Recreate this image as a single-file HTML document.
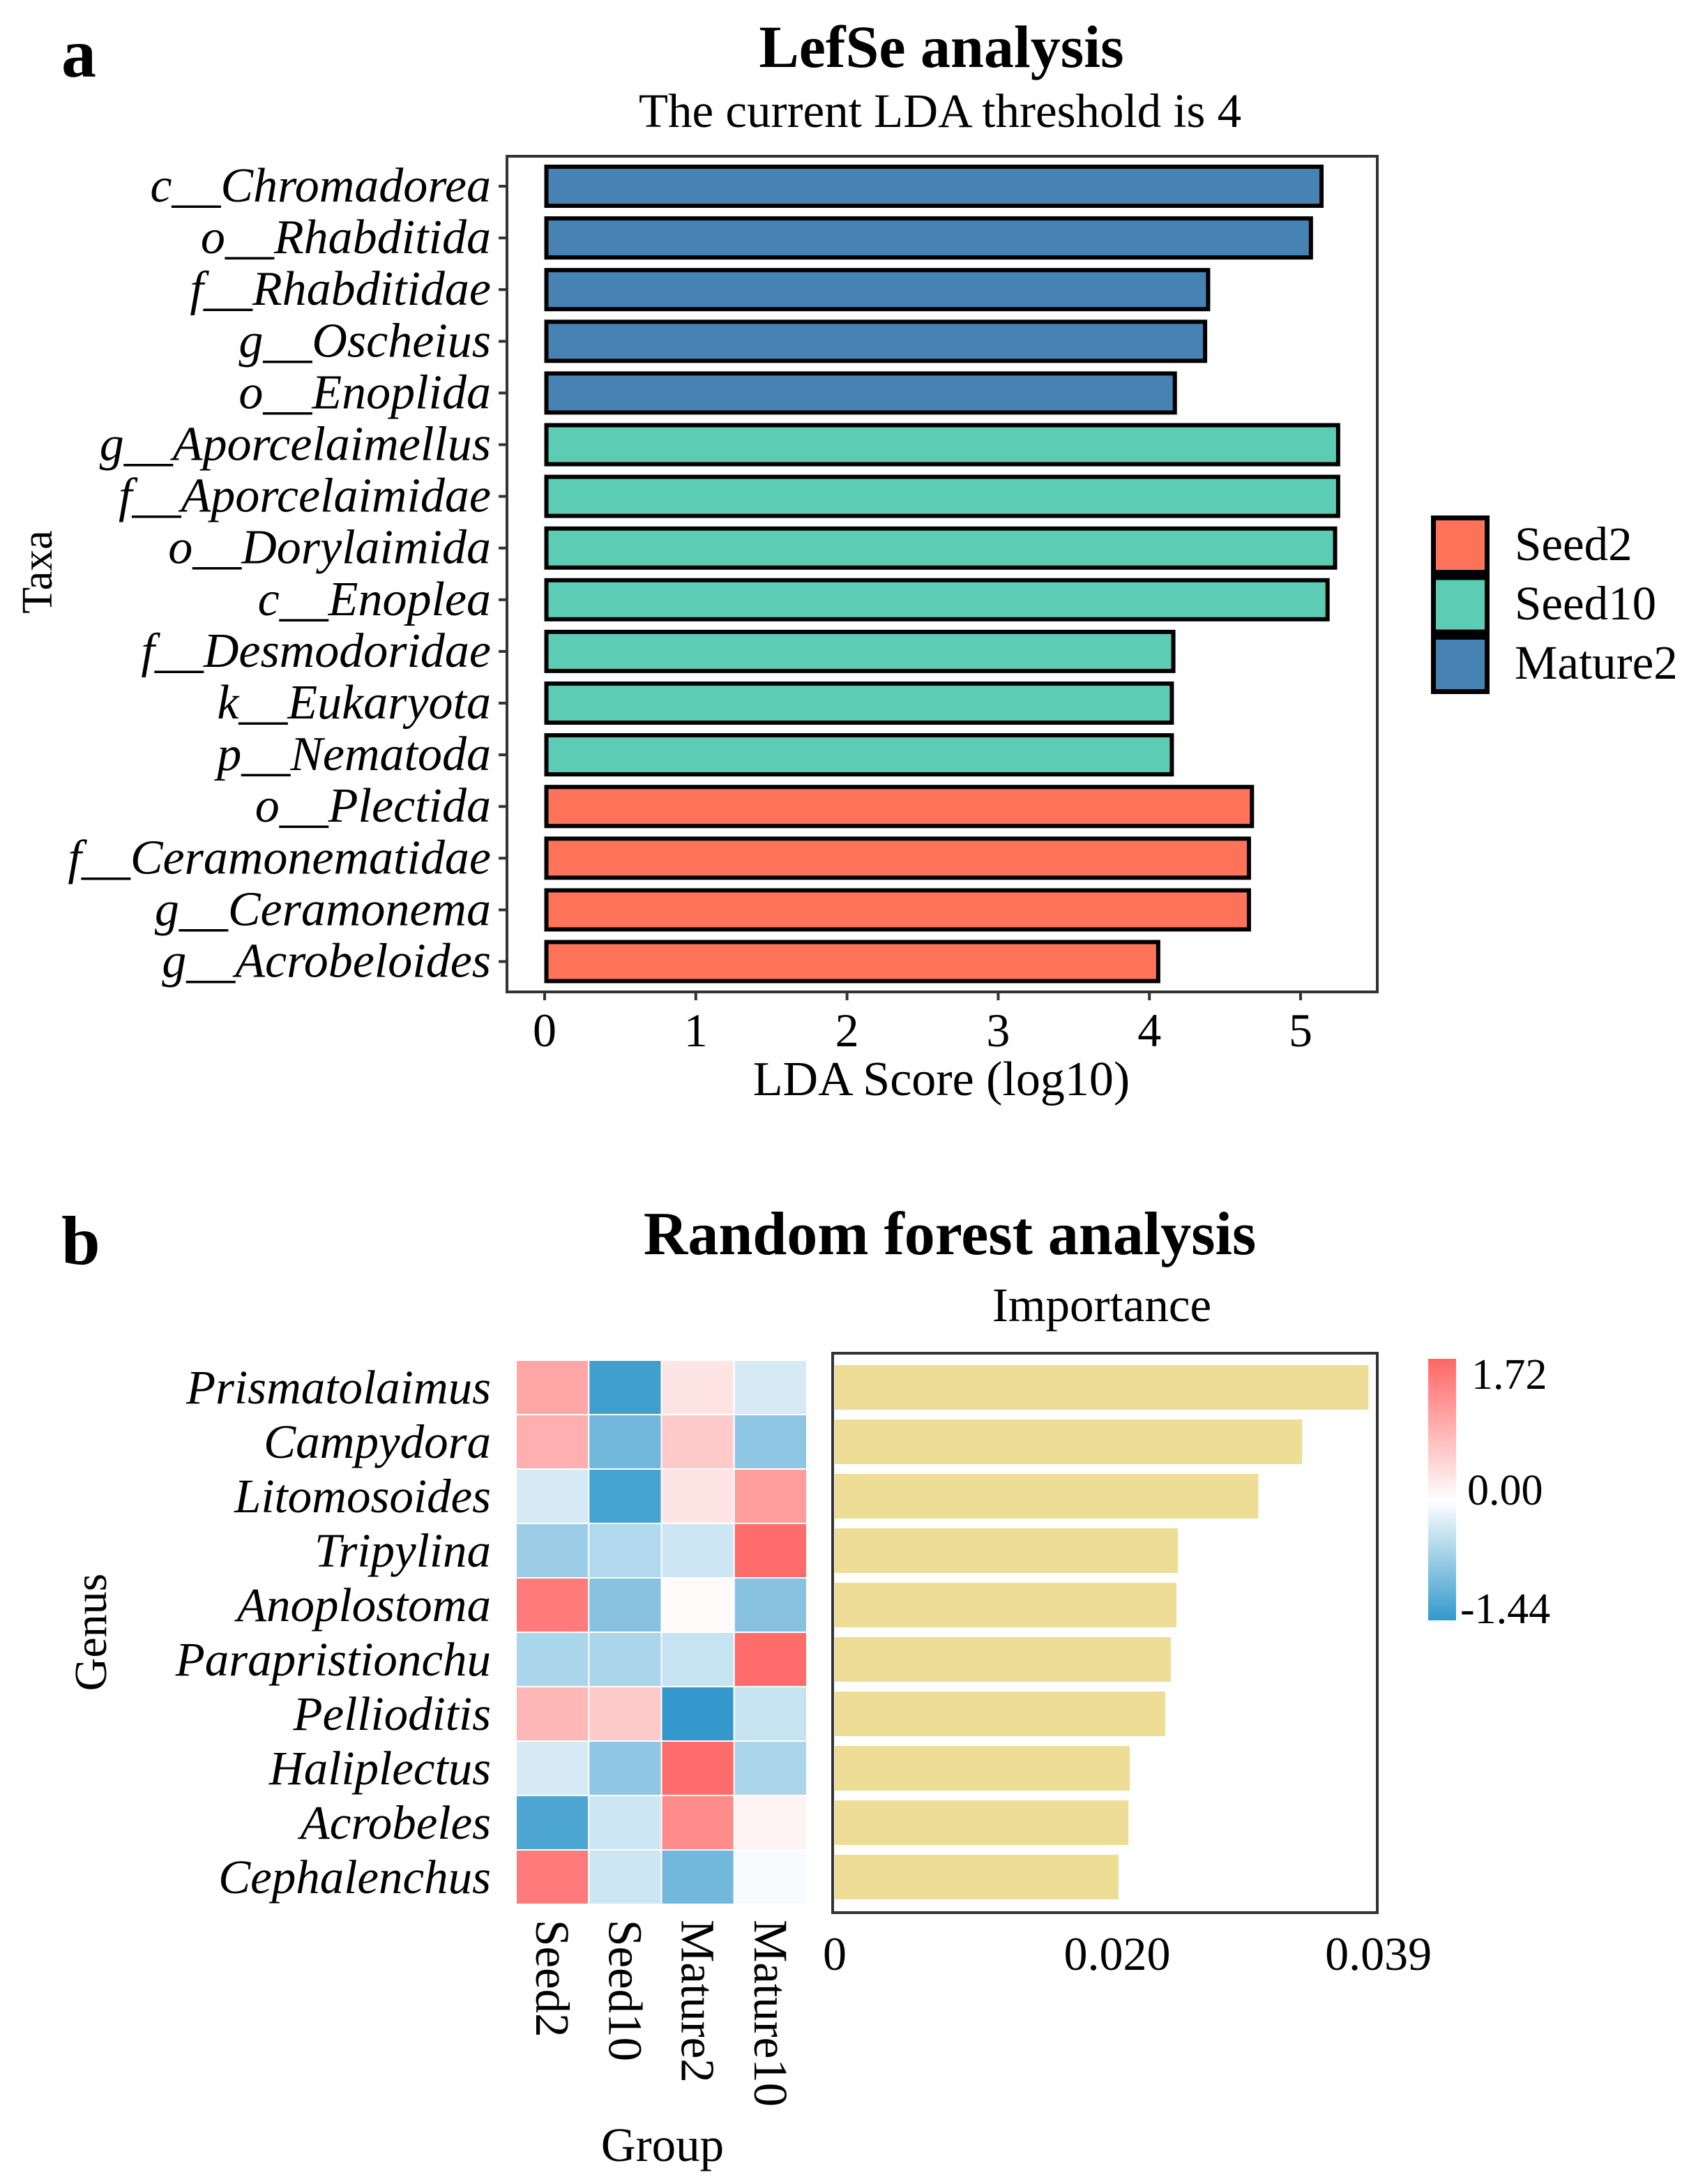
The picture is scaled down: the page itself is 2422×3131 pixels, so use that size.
<!DOCTYPE html>
<html><head><meta charset="utf-8">
<style>
html,body{margin:0;padding:0;background:#fff;}
svg{display:block;font-family:"Liberation Serif",serif;}
</style></head>
<body>
<svg id="fig" width="2422" height="3131" viewBox="0 0 2422 3131" xmlns="http://www.w3.org/2000/svg">
<rect x="0" y="0" width="2422" height="3131" fill="#fff"/>
<text x="88" y="110" font-size="100" font-weight="bold">a</text>
<text x="1350" y="96" font-size="86" font-weight="bold" text-anchor="middle">LefSe analysis</text>
<text x="1348" y="182" font-size="69" text-anchor="middle">The current LDA threshold is 4</text>
<g id="pa"></g>
<text transform="translate(74,820) rotate(-90)" font-size="62" text-anchor="middle">Taxa</text>
<text x="1350" y="1570" font-size="70" text-anchor="middle">LDA Score (log10)</text>
<g id="legend"></g>

<text x="88" y="1812" font-size="100" font-weight="bold">b</text>
<text x="1362" y="1798" font-size="88" font-weight="bold" text-anchor="middle">Random forest analysis</text>
<text x="1580" y="1894" font-size="69" text-anchor="middle">Importance</text>
<text transform="translate(152,2340) rotate(-90)" font-size="66" text-anchor="middle">Genus</text>
<text x="950" y="3098" font-size="69" text-anchor="middle">Group</text>
<g id="pb"></g>
<defs><linearGradient id="cb" x1="0" y1="0" x2="0" y2="1">
<stop offset="0" stop-color="#ff6666"/><stop offset="0.544" stop-color="#ffffff"/><stop offset="1" stop-color="#3399cc"/>
</linearGradient></defs>
<rect x="2048" y="1948" width="40" height="375" fill="url(#cb)"/>
<text x="2110" y="1991" font-size="62">1.72</text>
<text x="2104" y="2157" font-size="62">0.00</text>
<text x="2094" y="2327" font-size="62">-1.44</text>
</svg>
<script>
const NS="http://www.w3.org/2000/svg";
const taxa=["c__Chromadorea","o__Rhabditida","f__Rhabditidae","g__Oscheius","o__Enoplida","g__Aporcelaimellus","f__Aporcelaimidae","o__Dorylaimida","c__Enoplea","f__Desmodoridae","k__Eukaryota","p__Nematoda","o__Plectida","f__Ceramonematidae","g__Ceramonema","g__Acrobeloides"];
const ldaScores=[5.15,5.08,4.40,4.38,4.18,5.26,5.26,5.24,5.19,4.17,4.16,4.16,4.69,4.67,4.67,4.07];
const taxaGroup=["Mature2","Mature2","Mature2","Mature2","Mature2","Seed10","Seed10","Seed10","Seed10","Seed10","Seed10","Seed10","Seed2","Seed2","Seed2","Seed2"];
const groups=["Seed2","Seed10","Mature2"];
const ldaTicks=[0,1,2,3,4,5];
const genera=["Prismatolaimus","Campydora","Litomosoides","Tripylina","Anoplostoma","Parapristionchu","Pelliodititis".replace("ititis","itis"),"Haliplectus","Acrobeles","Cephalenchus"];
const heatCols=["Seed2","Seed10","Mature2","Mature10"];
const heatSeed2=[1.0,0.9,-0.3,-0.7,1.5,-0.6,0.8,-0.3,-1.25,1.5];
const heatSeed10=[-1.35,-1.0,-1.3,-0.55,-0.85,-0.6,0.6,-0.8,-0.35,-0.35];
const heatMature2=[0.3,0.6,0.3,-0.35,0.05,-0.4,-1.44,1.65,1.3,-1.0];
const heatMature10=[-0.3,-0.8,1.1,1.65,-0.85,1.65,-0.4,-0.6,0.15,-0.05];
const importance=[0.0378,0.0331,0.0300,0.0243,0.0242,0.0238,0.0234,0.0209,0.0208,0.0201];
const impTicks=[0,0.020,0.0385];
const impTickLabels=["0","0.020","0.039"];

function mk(tag,attrs,parent){const e=document.createElementNS(NS,tag);for(const k in attrs)e.setAttribute(k,attrs[k]);parent.appendChild(e);return e;}
const colors={Seed2:"#ff735a",Seed10:"#5ccdb4",Mature2:"#4682b4"};

// Panel a
const pa=document.getElementById("pa");
const ax=v=>781+v*216.8;
const ay=i=>267+i*74.1;
let fr=mk("rect",{x:727,y:224,width:1248,height:1198,fill:"none",stroke:"#333",'stroke-width':4},pa);


taxa.forEach((t,i)=>{
  const y=ay(i);
  const r=mk("rect",{x:ax(0)+2.5,y:y-28,width:ax(ldaScores[i])-ax(0)-5,height:56,fill:colors[taxaGroup[i]],stroke:"#000",'stroke-width':6},pa);
  
  
  const tk=mk("line",{x1:715,x2:727,y1:y,y2:y,stroke:"#333",'stroke-width':4},pa);
  
  
  const tx=mk("text",{x:704,y:y+22,'font-size':70,'font-style':'italic','text-anchor':'end'},pa);
  tx.textContent=t;
  
  
});
ldaTicks.forEach(v=>{
  const x=ax(v);
  const tk=mk("line",{x1:x,x2:x,y1:1422,y2:1434,stroke:"#333",'stroke-width':4},pa);
  
  
  const tx=mk("text",{x:x,y:1500,'font-size':68,'text-anchor':'middle'},pa);
  tx.textContent=String(v);
  
  
});
// legend
const lg=document.getElementById("legend");
const lgBg=mk("rect",{x:2052,y:739,width:84,height:256,fill:"#000"},lg);


groups.forEach((g,i)=>{
  const y=746+i*85.5;
  const r=mk("rect",{x:2059,y:y,width:70,height:71,fill:colors[g]},lg);
  
  
  const t=mk("text",{x:2172,y:803+i*85,'font-size':69},lg);
  t.textContent=g;
  
  
});

// Panel b heatmap
const pb=document.getElementById("pb");
const heat=[heatSeed2,heatSeed10,heatMature2,heatMature10];
const hy=i=>1950+i*78;
const hx=j=>740+j*104.25;
function col(v){
  let c1=[255,255,255],c2,t;
  if(v>=0){c2=[255,102,102];t=Math.min(v/1.72,1);}else{c2=[51,153,204];t=Math.min(-v/1.44,1);}
  return "rgb("+c1.map((a,k)=>Math.round(a+(c2[k]-a)*t)).join(",")+")";
}
genera.forEach((g,i)=>{
  heat.forEach((arr,j)=>{
    const r=mk("rect",{x:hx(j),y:hy(i),width:104.25,height:78,fill:col(arr[i]),stroke:"#fff",'stroke-width':2},pb);
    
    
  });
  const t=mk("text",{x:704,y:hy(i)+62,'font-size':69,'font-style':'italic','text-anchor':'end'},pb);
  t.textContent=g;
  
  
});
heatCols.forEach((c,j)=>{
  const x=hx(j)+52;
  const t=mk("text",{transform:"translate("+(x-23)+",2752) rotate(90)",'font-size':69},pb);
  t.textContent=c;
  
  
});
// importance bars
const bx=v=>1197+v*20250;
const f2=mk("rect",{x:1194,y:1940,width:781,height:802,fill:"none",stroke:"#333",'stroke-width':4},pb);


importance.forEach((v,i)=>{
  const r=mk("rect",{x:bx(0),y:hy(i)+7,width:bx(v)-bx(0),height:64,fill:"#eedd95"},pb);
  
  
});
impTicks.forEach((v,k)=>{
  const t=mk("text",{x:bx(v),y:2824,'font-size':68,'text-anchor':'middle'},pb);
  t.textContent=impTickLabels[k];
  
  
});
</script>
</body></html>
